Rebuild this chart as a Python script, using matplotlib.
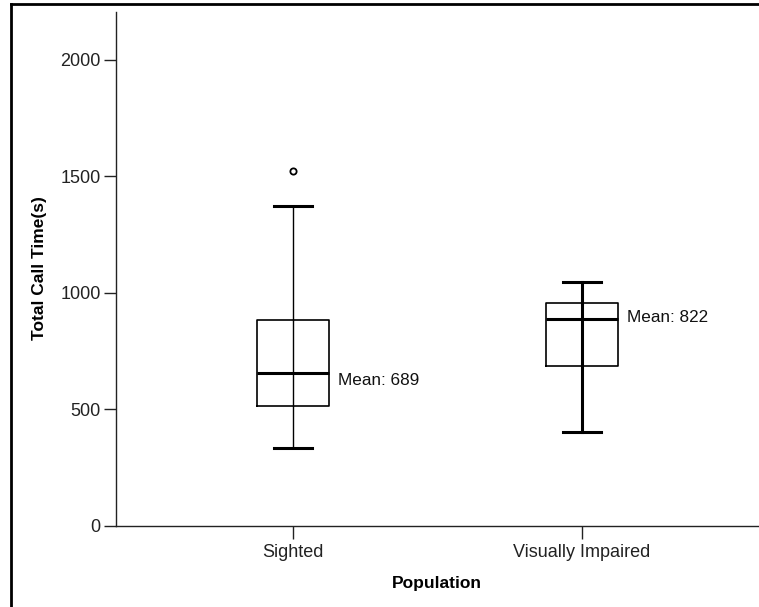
import matplotlib
matplotlib.use("Agg")
import matplotlib.pyplot as plt
from matplotlib.lines import Line2D

plt.rcParams['font.family'] = ['Liberation Sans', 'DejaVu Sans']

# values
groups = ["Sighted", "Visually Impaired"]
whisker_low = [336, 405]
q1 = [516, 687]
median = [655, 888]
q3 = [886, 956]
whisker_high = [1375, 1049]
outliers = [[1525], []]
means = [689, 822]

y_ticks = [0, 500, 1000, 1500, 2000]

fig = plt.figure(figsize=(7.59, 6.07), dpi=100)
W, H = 759, 607
ax = fig.add_axes([116 / W, 1 - 526 / H, (758 - 116) / W, (526 - 12) / H])

stats = []
for i in range(len(groups)):
    stats.append({
        "label": groups[i],
        "whislo": whisker_low[i],
        "q1": q1[i],
        "med": median[i],
        "q3": q3[i],
        "whishi": whisker_high[i],
        "fliers": outliers[i],
    })

positions = [1, 2]
box_w = 0.25
whisk_lw = [1.0, 2.2]  # second group has heavier whiskers in the original

bp = ax.bxp(stats, positions=positions, widths=box_w, capwidths=0.13,
            patch_artist=False, showfliers=True,
            boxprops=dict(color="black", linewidth=1.2),
            medianprops=dict(color="black", linewidth=2.2),
            whiskerprops=dict(color="black", linewidth=1.0),
            capprops=dict(color="black", linewidth=2.2),
            flierprops=dict(marker="o", markersize=4.5, markerfacecolor="white",
                            markeredgecolor="black", markeredgewidth=1.3))

for i in range(len(groups)):
    bp["whiskers"][2 * i].set_linewidth(whisk_lw[i])
    bp["whiskers"][2 * i + 1].set_linewidth(whisk_lw[i])
    # SPSS runs the whisker line straight through the box
    ax.vlines(positions[i], q1[i], q3[i], color="black", linewidth=whisk_lw[i], zorder=1.5)

# mean labels next to the boxes
label_y = [625, 893]
for i in range(len(groups)):
    ax.text(positions[i] + box_w / 2 + 0.03, label_y[i], "Mean: %d" % means[i],
            fontsize=12.3, color="#111111", va="center", ha="left")

ax.set_xlim(0.3875, 2.609)
ax.set_ylim(0, 2206)
ax.set_xticks(positions)
ax.set_xticklabels(groups)
ax.set_yticks(y_ticks)

for side in ["top", "right"]:
    ax.spines[side].set_visible(False)
for side in ["left", "bottom"]:
    ax.spines[side].set_color("#222222")
    ax.spines[side].set_linewidth(1.0)

ax.tick_params(axis="both", direction="out", length=9, width=1.0,
               color="#222222", labelsize=13, labelcolor="#222222")
ax.tick_params(axis="y", pad=2)
ax.tick_params(axis="x", pad=4)

ax.set_xlabel("Population", fontsize=12.5, fontweight="bold")
ax.set_ylabel("Total Call Time(s)", fontsize=12.5, fontweight="bold")
ax.xaxis.set_label_coords(0.5, -0.111)
ax.xaxis.label.set_va("center")
ax.yaxis.set_label_coords((40 - 116) / 642, 0.502)
ax.yaxis.label.set_va("center")

# outer frame (left and top edges visible only)
fig.add_artist(Line2D([11 / W, 11 / W], [0, 1 - 4 / H], transform=fig.transFigure,
                      color="black", linewidth=2.0))
fig.add_artist(Line2D([11 / W, 1], [1 - 4 / H, 1 - 4 / H], transform=fig.transFigure,
                      color="black", linewidth=2.0))

fig.savefig("out.png", dpi=100)
